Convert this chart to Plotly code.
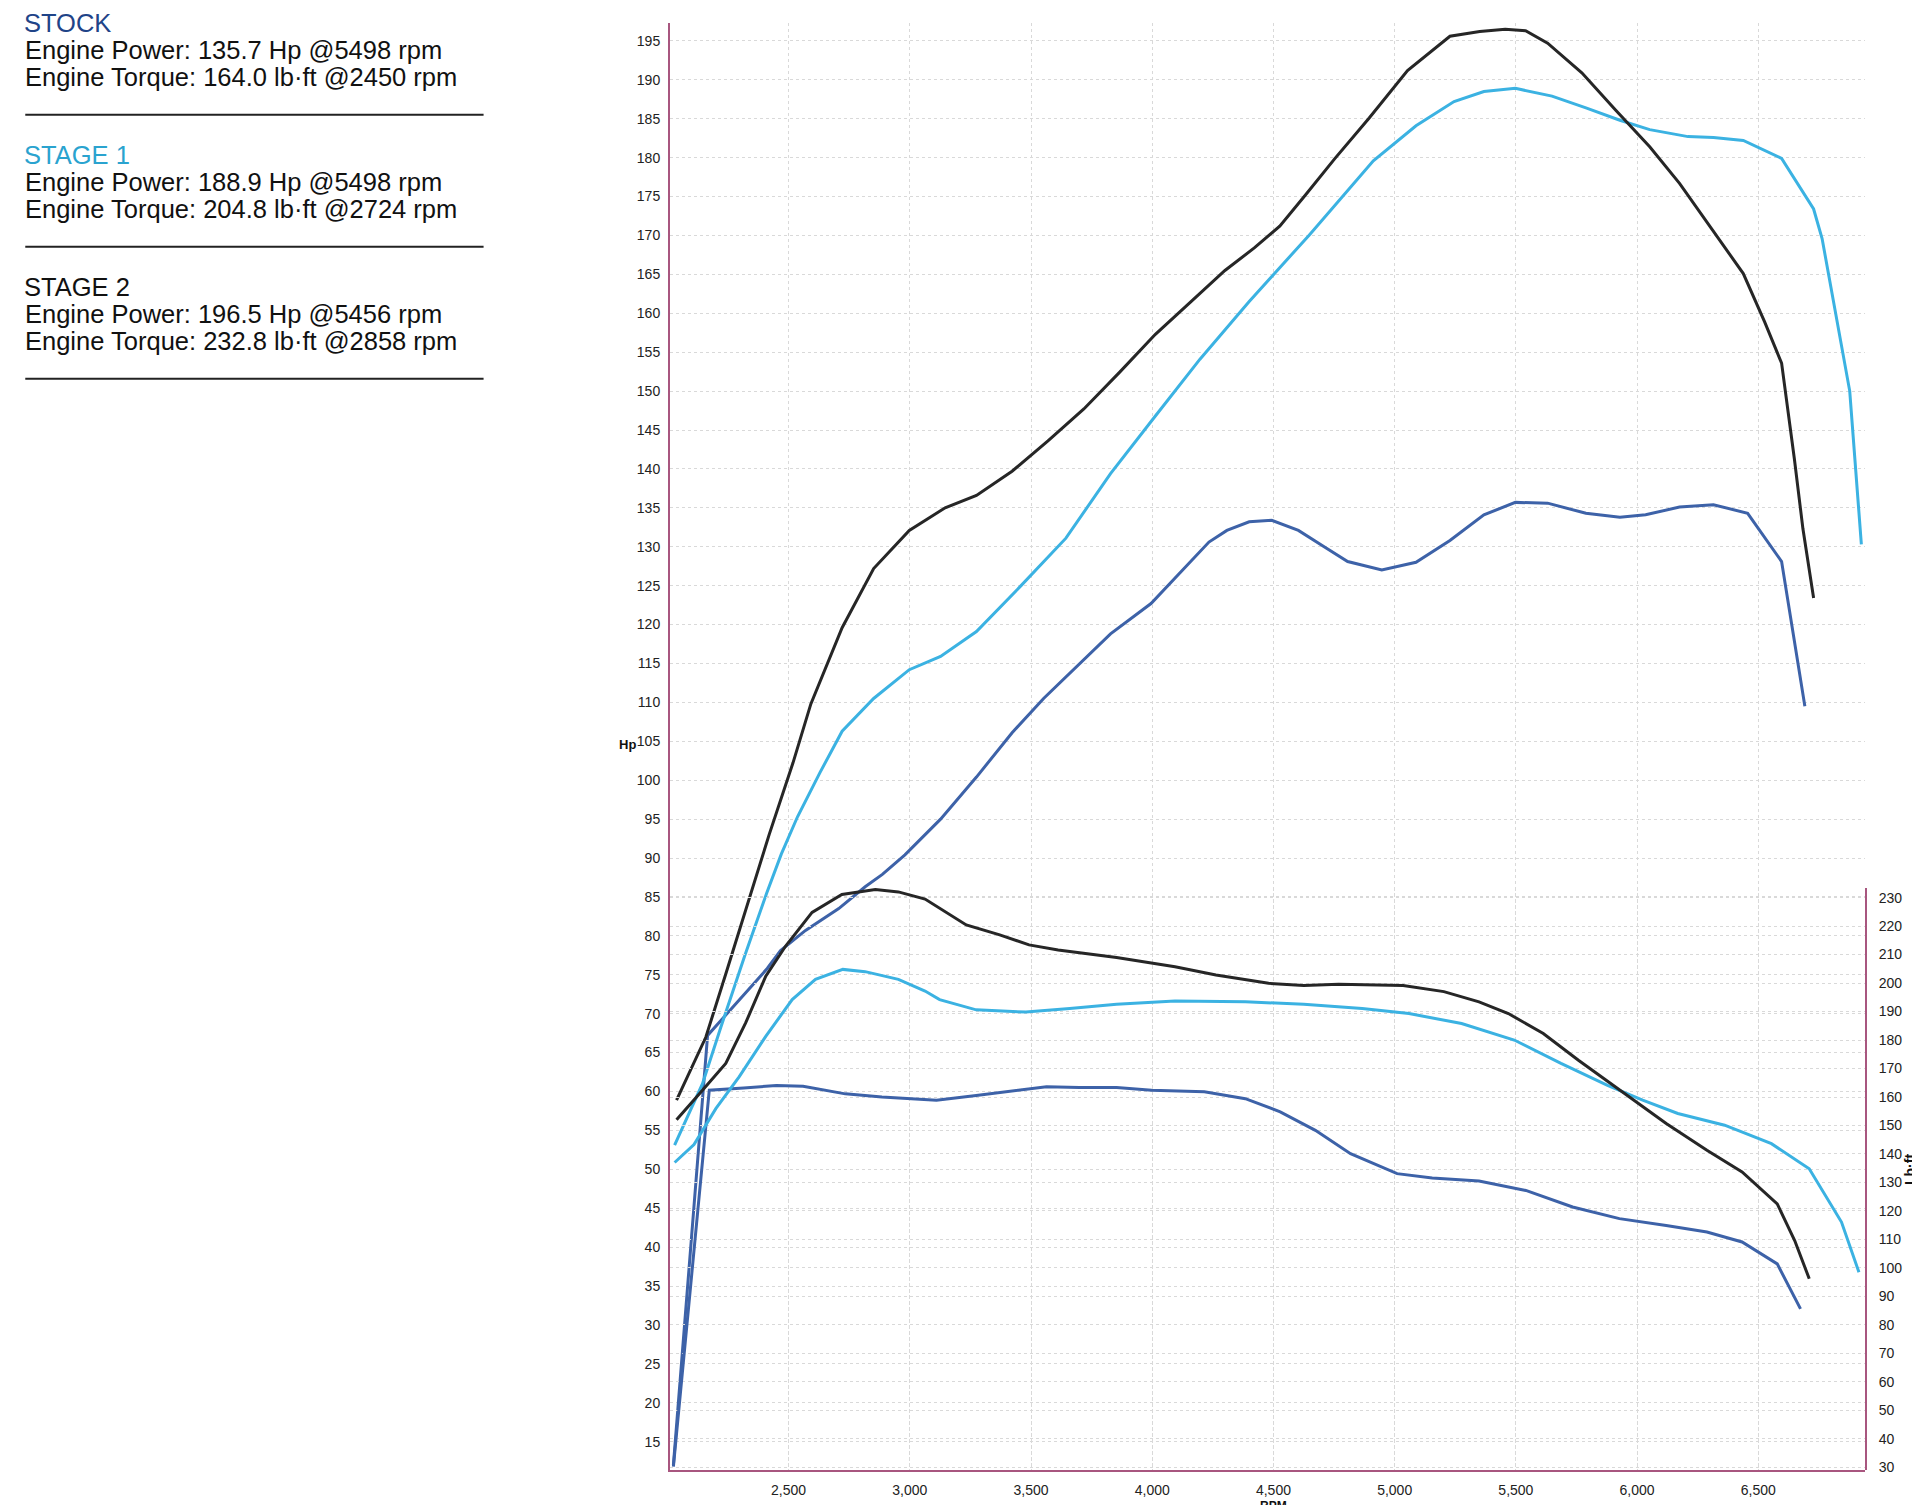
import plotly.graph_objects as go

# dyno sheet: power (left axis, Hp) and torque (right axis, lb-ft) vs rpm

# ---- data ----
stock_hp_rpm = [2025, 2166, 2412, 2467, 2570, 2707, 2816, 2887, 2980, 3127, 3275, 3422, 3552,
                3681, 3828, 3995, 4124, 4234, 4308, 4400, 4493, 4603, 4714, 4806, 4947, 5088,
                5228, 5368, 5498, 5631, 5789, 5929, 6035, 6175, 6315, 6456, 6596, 6692]
stock_hp = [12.0, 67.2, 75.8, 78.1, 80.7, 83.5, 86.3, 87.9, 90.4, 95.0, 100.4, 106.1, 110.5,
            114.4, 118.8, 122.7, 126.9, 130.6, 132.1, 133.2, 133.4, 132.1, 129.9, 128.1, 127.0, 128.0,
            130.8, 134.1, 135.7, 135.6, 134.3, 133.8, 134.1, 135.1, 135.4, 134.3, 128.1, 109.5]

stage1_hp_rpm = [2030, 2145, 2220, 2320, 2410, 2470, 2537, 2630, 2721, 2851, 2998, 3127, 3275,
                 3459, 3644, 3828, 4013, 4197, 4400, 4649, 4912, 5088, 5245, 5368, 5498, 5649,
                 5789, 5929, 6052, 6210, 6315, 6438, 6596, 6728, 6763, 6851, 6877, 6925]
stage1_hp = [53.1, 61.0, 68.2, 77.5, 85.5, 90.5, 95.3, 101.0, 106.3, 110.5, 114.2, 115.9, 119.1,
             125.0, 131.1, 139.4, 146.8, 154.1, 161.5, 170.1, 179.6, 184.1, 187.2, 188.5, 188.9, 187.9,
             186.4, 184.8, 183.6, 182.7, 182.6, 182.2, 179.9, 173.4, 169.6, 154.8, 150.0, 130.3]

stage2_hp_rpm = [2038, 2159, 2241, 2330, 2420, 2518, 2592, 2721, 2851, 2998, 3146, 3275,
                 3422, 3570, 3718, 3865, 4013, 4160, 4300, 4421, 4526, 4632, 4754, 4895, 5053,
                 5228, 5351, 5456, 5540, 5631, 5772, 5912, 6052, 6175, 6298, 6438, 6526, 6596,
                 6649, 6684, 6728]
stage2_hp = [58.9, 67.0, 75.1, 84.0, 93.0, 102.2, 109.8, 119.6, 127.2, 132.1, 135.0, 136.6,
             139.7, 143.6, 147.7, 152.4, 157.3, 161.5, 165.5, 168.4, 171.2, 175.2, 179.9, 185.1, 191.2,
             195.6, 196.2, 196.5, 196.3, 194.7, 190.9, 186.1, 181.4, 176.7, 171.3, 165.1, 158.9, 153.6,
             141.2, 132.3, 123.4]

stock_tq_rpm = [2025, 2173, 2315, 2450, 2560, 2734, 2885, 2990, 3110, 3274, 3479, 3564, 3699,
                3853, 3998, 4215, 4384, 4528, 4673, 4818, 5010, 5155, 5348, 5541, 5734, 5927,
                6120, 6288, 6433, 6578, 6674]
stock_tq = [30.2, 162.4, 163.2, 164.0, 163.8, 161.1, 160.0, 159.5, 158.9, 160.5, 162.7, 163.6, 163.3,
            163.3, 162.4, 161.8, 159.4, 154.8, 148.3, 140.1, 133.1, 131.6, 130.5, 127.2, 121.4, 117.3,
            114.9, 112.6, 109.1, 101.4, 85.6]

stage1_tq_rpm = [2030, 2110, 2200, 2296, 2406, 2515, 2611, 2724, 2816, 2953, 3063, 3123, 3274,
                 3479, 3660, 3853, 4094, 4384, 4625, 4866, 5059, 5276, 5493, 5686, 5878, 6023,
                 6168, 6361, 6554, 6710, 6843, 6915]
stage1_tq = [137.0, 143.3, 155.9, 167.1, 181.3, 194.2, 201.3, 204.8, 204.0, 201.3, 197.2, 194.2, 190.6,
             189.8, 191.1, 192.6, 193.7, 193.4, 192.6, 191.1, 189.3, 185.8, 180.0, 171.8, 164.1, 158.9,
             154.2, 150.1, 143.6, 134.8, 116.1, 98.5]

stage2_tq_rpm = [2038, 2077, 2145, 2241, 2323, 2406, 2488, 2597, 2720, 2858, 2953, 3063, 3233,
                 3371, 3492, 3612, 3853, 4094, 4263, 4480, 4625, 4769, 4914, 5035, 5203, 5348,
                 5469, 5613, 5758, 5927, 6120, 6288, 6433, 6578, 6650, 6710]
stage2_tq = [152.0, 155.9, 162.4, 171.8, 186.0, 202.4, 213.0, 224.8, 231.1, 232.8, 232.0, 229.5, 220.4,
             216.9, 213.4, 211.6, 209.0, 205.7, 202.8, 199.9, 199.1, 199.6, 199.2, 199.1, 197.0, 193.4,
             189.3, 182.3, 172.9, 162.4, 150.7, 141.3, 133.7, 122.5, 109.6, 96.2]

rpm_ticks = [2500, 3000, 3500, 4000, 4500, 5000, 5500, 6000, 6500]

summary = [
    ("STOCK", "#1f4488", "135.7 Hp @5498 rpm", "164.0 lb·ft @2450 rpm"),
    ("STAGE 1", "#2aa3cf", "188.9 Hp @5498 rpm", "204.8 lb·ft @2724 rpm"),
    ("STAGE 2", "#111111", "196.5 Hp @5456 rpm", "232.8 lb·ft @2858 rpm"),
]

c_stock = "#3d62a8"
c_stage1 = "#3bb2e2"
c_stage2 = "#262626"
c_axis = "#a8567f"
c_grid = "#d9d9d9"

# page pixel geometry (plot box on the 1920x1505 page, body has an 8px margin)
OFF = 8
W, H = 1920 - OFF, 1505 - OFF
L, R, T, B = 669.5, 1865, 22.7, 1470


def px_x(x):
    return (x - L) / (R - L)


def px_y(y):
    return (B - y) / (B - T)


fig = go.Figure()
for xs, ys, col in [(stock_hp_rpm, stock_hp, c_stock),
                    (stage1_hp_rpm, stage1_hp, c_stage1),
                    (stage2_hp_rpm, stage2_hp, c_stage2)]:
    fig.add_trace(go.Scatter(x=xs, y=ys, mode="lines", line=dict(color=col, width=3),
                             xaxis="x", yaxis="y"))
for xs, ys, col in [(stock_tq_rpm, stock_tq, c_stock),
                    (stage1_tq_rpm, stage1_tq, c_stage1),
                    (stage2_tq_rpm, stage2_tq, c_stage2)]:
    fig.add_trace(go.Scatter(x=xs, y=ys, mode="lines", line=dict(color=col, width=3),
                             xaxis="x", yaxis="y2"))

tick_font = dict(family="Liberation Sans, Arial", size=14, color="#222222")

fig.update_layout(
    width=W,
    height=H,
    autosize=False,
    margin=dict(l=L - OFF, r=W - (R - OFF), t=T - OFF, b=H - (B - OFF), pad=0),
    paper_bgcolor="white",
    plot_bgcolor="rgba(0,0,0,0)",
    showlegend=False,
    xaxis=dict(range=[2011, 6940], tickvals=rpm_ticks, tickformat=",d", showline=True,
               linecolor=c_axis, linewidth=2, showgrid=True, gridcolor=c_grid, griddash="dot",
               gridwidth=1, zeroline=False, ticks="", ticklabelstandoff=6, tickfont=tick_font,
               automargin=False),
    yaxis=dict(range=[11.36, 197.3], tick0=15, dtick=5, showline=True, linecolor=c_axis,
               linewidth=2, showgrid=True, gridcolor=c_grid, griddash="dot", gridwidth=1,
               zeroline=False, ticks="", ticklabelstandoff=5, tickfont=tick_font, automargin=False),
    yaxis2=dict(range=[29.05, 233.4], tick0=30, dtick=10, domain=[0, px_y(887.8)], anchor="x",
                side="right", showline=True, linecolor=c_axis, linewidth=2, showgrid=True,
                gridcolor=c_grid, griddash="dot", gridwidth=1, zeroline=False, ticks="",
                ticklabelstandoff=9, tickfont=tick_font, automargin=False),
)

# axis titles
fig.add_annotation(text="<b>Hp</b>", x=px_x(627), y=px_y(744), xref="paper", yref="paper",
                   xanchor="center", yanchor="middle", showarrow=False,
                   font=dict(family="Liberation Sans, Arial", size=13, color="#111"))
fig.add_annotation(text="<b>Lb·ft</b>", x=px_x(1910), y=px_y(1169), xref="paper", yref="paper",
                   xanchor="center", yanchor="middle", showarrow=False, textangle=-90,
                   font=dict(family="Liberation Sans, Arial", size=14, color="#111"))
fig.add_annotation(text="<b>RPM</b>", x=px_x(1273), y=px_y(1497), xref="paper", yref="paper",
                   xanchor="center", yanchor="top", showarrow=False,
                   font=dict(family="Liberation Sans, Arial", size=12, color="#111"))

# summary block at top left
text_font = "Liberation Sans, Arial"
block_top = [22.5, 154.5, 286.5]
for (name, col, power, torque), y0 in zip(summary, block_top):
    fig.add_annotation(text=name, x=px_x(21), y=px_y(y0), xref="paper", yref="paper",
                       xanchor="left", yanchor="middle", showarrow=False,
                       font=dict(family=text_font, size=25.5, color=col))
    fig.add_annotation(text="Engine Power: " + power, x=px_x(22), y=px_y(y0 + 27), xref="paper",
                       yref="paper", xanchor="left", yanchor="middle", showarrow=False,
                       font=dict(family=text_font, size=25.5, color="#111"))
    fig.add_annotation(text="Engine Torque: " + torque, x=px_x(22), y=px_y(y0 + 54),
                       xref="paper", yref="paper", xanchor="left", yanchor="middle",
                       showarrow=False, font=dict(family=text_font, size=25.5, color="#111"))
    fig.add_shape(type="line", xref="paper", yref="paper", x0=px_x(24.5), x1=px_x(483),
                  y0=px_y(y0 + 92), y1=px_y(y0 + 92), line=dict(color="#222", width=2))

fig.write_html("out.html")
